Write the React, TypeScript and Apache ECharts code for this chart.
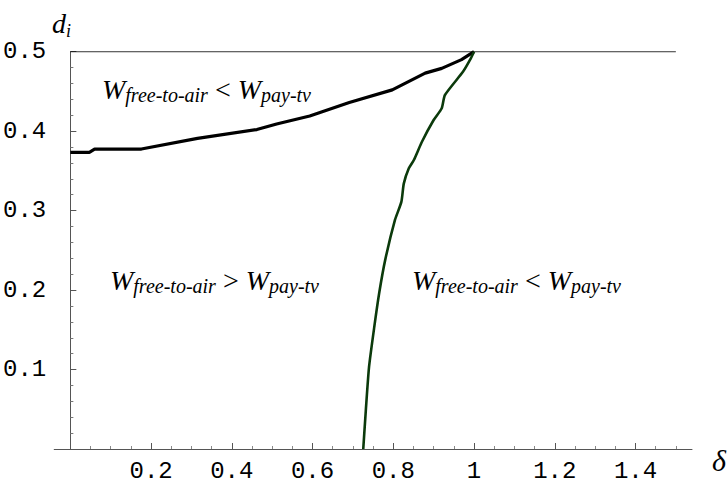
import React, { useEffect, useRef } from "react";
import * as echarts from "echarts";

const xMajorTicks = [0.2, 0.4, 0.6, 0.8, 1, 1.2, 1.4];
const xMinorTicks = [0.05, 0.1, 0.15, 0.25, 0.3, 0.35, 0.45, 0.5, 0.55, 0.65, 0.7, 0.75, 0.85, 0.9, 0.95, 1.05, 1.1, 1.15, 1.25, 1.3, 1.35, 1.45, 1.5];

// boundary d_i where W_free-to-air = W_pay-tv (upper, black)
const upperBoundary: [number, number][] = [
  [0, 0.3734], [0.047, 0.3734], [0.06, 0.3775], [0.176, 0.3775], [0.315, 0.391],
  [0.462, 0.402], [0.511, 0.409], [0.593, 0.419], [0.691, 0.436], [0.7975, 0.452],
  [0.879, 0.473], [0.92, 0.479], [0.969, 0.49], [1.0, 0.5],
];

// boundary (right, green)
const rightBoundary: [number, number][] = [
  [0.7256, 0], [0.732, 0.049], [0.74, 0.1036], [0.753, 0.154], [0.765, 0.196],
  [0.78, 0.238], [0.804, 0.288], [0.82, 0.311], [0.826, 0.334], [0.8385, 0.3533],
  [0.851, 0.3637], [0.871, 0.3867], [0.9, 0.414], [0.92, 0.4288], [0.928, 0.4455],
  [0.973, 0.475], [0.99, 0.4896], [1.0, 0.5],
];

const capLine: [number, number][] = [[0, 0.5], [1.5, 0.5]];

const mono = "'Liberation Mono', 'DejaVu Sans Mono', monospace";
const serif = "'Liberation Serif', 'DejaVu Serif', serif";

const richStyles = {
  W: { fontFamily: serif, fontStyle: "italic", fontSize: 28, lineHeight: 28, verticalAlign: "top", color: "#000" },
  s: { fontFamily: serif, fontStyle: "italic", fontSize: 20, lineHeight: 20, verticalAlign: "top", padding: [10, 0, 0, 0], color: "#000" },
  o: { fontFamily: serif, fontSize: 28, lineHeight: 28, verticalAlign: "top", color: "#000" },
};

// y is the top of the text line box
function regionLabel(x: number, y: number, op: string) {
  return {
    type: "text",
    x,
    y,
    style: {
      text: `{W|W}{s|free-to-air}{o| ${op} }{W|W}{s|pay-tv}`,
      rich: richStyles,
      verticalAlign: "top",
      align: "left",
    },
  };
}

export default function App() {
  const ref = useRef<HTMLDivElement>(null);
  useEffect(() => {
    if (!ref.current) return;
    const chart = echarts.init(ref.current, null, { renderer: "svg" });
    chart.setOption({
      animation: false,
      backgroundColor: "#fff",
      grid: { left: 48, right: 36, top: 51.7, bottom: 34, containLabel: false },
      xAxis: [
        {
          type: "value",
          min: -0.04,
          max: 1.54,
          axisLine: { show: true, onZero: true, lineStyle: { color: "#555", width: 1 } },
          axisTick: { show: true, inside: true, length: 6, customValues: xMajorTicks, lineStyle: { color: "#555" } },
          axisLabel: {
            customValues: xMajorTicks,
            formatter: (v: number) => (Math.abs(v - 1) < 1e-9 ? "1" : v.toFixed(1)),
            fontFamily: mono,
            fontSize: 24,
            color: "#000",
            margin: 10,
          },
          splitLine: { show: false },
        },
        {
          type: "value",
          min: -0.04,
          max: 1.54,
          position: "bottom",
          axisLine: { show: false },
          axisTick: { show: true, inside: true, length: 3, customValues: xMinorTicks, lineStyle: { color: "#888" } },
          axisLabel: { show: false },
          splitLine: { show: false },
        },
      ],
      yAxis: {
        type: "value",
        min: 0,
        max: 0.5,
        interval: 0.1,
        axisLine: { show: true, onZero: true, lineStyle: { color: "#555", width: 1 } },
        axisTick: { show: true, inside: true, length: 6, lineStyle: { color: "#555" } },
        minorTick: { show: true, splitNumber: 5, length: 3, lineStyle: { color: "#777" } },
        axisLabel: {
          formatter: (v: number) => (v === 0 ? "" : v.toFixed(1)),
          fontFamily: mono,
          fontSize: 24,
          color: "#000",
          margin: 8,
        },
        splitLine: { show: false },
        minorSplitLine: { show: false },
      },
      series: [
        {
          type: "line",
          data: capLine,
          symbol: "none",
          lineStyle: { color: "#000", width: 1 },
          z: 3,
        },
        {
          type: "line",
          data: upperBoundary,
          symbol: "none",
          lineStyle: { color: "#000", width: 3.2 },
          z: 4,
        },
        {
          type: "line",
          data: rightBoundary,
          symbol: "none",
          smooth: 0.2,
          lineStyle: { color: "#0b3a0b", width: 2.6 },
          z: 5,
        },
      ],
      graphic: [
        {
          type: "text",
          x: 52,
          y: 9,
          style: {
            text: "{d|d}{i|i}",
            rich: {
              d: { fontFamily: serif, fontStyle: "italic", fontSize: 28, lineHeight: 28, verticalAlign: "top", color: "#000" },
              i: { fontFamily: serif, fontStyle: "italic", fontSize: 18, lineHeight: 18, verticalAlign: "top", padding: [13, 0, 0, 0], color: "#000" },
            },
            verticalAlign: "top",
          },
        },
        {
          type: "text",
          x: 712,
          y: 460,
          style: {
            text: "δ",
            fontFamily: serif,
            fontStyle: "italic",
            fontSize: 30,
            fill: "#000",
            verticalAlign: "middle",
          },
        },
        regionLabel(102, 75, "<"),
        regionLabel(110, 266, ">"),
        regionLabel(412, 266, "<"),
      ],
    });
    return () => chart.dispose();
  }, []);
  return <div ref={ref} style={{ position: "absolute", left: 0, top: 0, width: 728, height: 483 }} />;
}
